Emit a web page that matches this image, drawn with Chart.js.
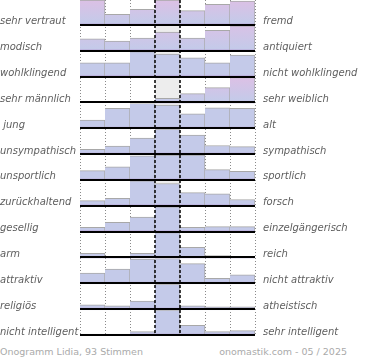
<!DOCTYPE html>
<html>
<head>
<meta charset="utf-8">
<script src="https://cdn.jsdelivr.net/npm/chart.js@4/dist/chart.umd.min.js"></script>
<style>
  body { margin: 0; background: #fff; }
  #wrap { position: relative; width: 370px; height: 340px; }
  .foot { position: absolute; top: 346px; font: 9.5px "DejaVu Sans", sans-serif; color: #aaa; white-space: nowrap; }
</style>
</head>
<body>
<div id="wrap"><canvas id="onogramm"></canvas></div>
<div class="foot" style="left:0">Onogramm Lidia, 93 Stimmen</div>
<div class="foot" style="right:23px">onomastik.com - 05 / 2025</div>
<script>
console.log("Onogramm loaded");
// SCALE STEPS (7 columns, left pole -> right pole)
const steps = ['1', '2', '3', '4', '5', '6', '7'];

const leftLabels = ['sehr vertraut', 'modisch', 'wohlklingend', 'sehr männlich', ' jung',
  'unsympathisch', 'unsportlich', 'zurückhaltend', 'gesellig', 'arm', 'attraktiv',
  'religiös', 'nicht intelligent'];
const rightLabels = ['fremd', 'antiquiert', 'nicht wohlklingend', 'sehr weiblich', 'alt',
  'sympathisch', 'sportlich', 'forsch', 'einzelgängerisch', 'reich', 'nicht attraktiv',
  'atheistisch', 'sehr intelligent'];

// relative bar heights per row (row max = 100)
const rowValues = [
  [100, 45, 64, 100, 59, 83, 96],
  [50, 41, 53, 76, 53, 83, 100],
  [57, 57, 100, 91, 76, 57, 87],
  [0, 0, 0, 20, 38, 61, 100],
  [35, 81, 100, 93, 60, 83, 81],
  [22, 35, 66, 100, 77, 37, 33],
  [40, 55, 97, 100, 100, 44, 37],
  [24, 33, 100, 90, 55, 50, 28],
  [20, 40, 60, 100, 20, 23, 23],
  [20, 4, 20, 100, 43, 11, 7],
  [43, 59, 98, 100, 80, 23, 37],
  [21, 17, 35, 100, 17, 13, 13],
  [7, 7, 17, 100, 41, 17, 21]
];

// how pink the top of a row gets
const rowTint = [1, 0.85, 0, 1, 0, 0, 0, 0, 0, 0, 0, 0, 0];

const blue = [196, 202, 233];
const pink = [220, 192, 229];
function mix(a, b, t) {
  return 'rgb(' + a.map((v, i) => Math.round(v + (b[i] - v) * t)).join(',') + ')';
}

function barFill(ctx) {
  const chart = ctx.chart;
  const ds = chart.data.datasets[ctx.datasetIndex];
  const ys = chart.scales[ds.yAxisID];
  if (!ys || !isFinite(ys.top) || ys.bottom <= ys.top) return mix(blue, blue, 0);
  const g = chart.ctx.createLinearGradient(0, ys.top, 0, ys.bottom);
  g.addColorStop(0, mix(blue, pink, rowTint[ctx.datasetIndex]));
  g.addColorStop(0.88, mix(blue, blue, 0));
  g.addColorStop(0.92, '#bcb3de');
  g.addColorStop(1, '#a293cb');
  return g;
}

const scales = {
  x: { display: false, offset: true }
};
rowValues.forEach((row, i) => {
  scales['y' + i] = {
    position: 'right', stack: 'rows', stackWeight: 1,
    min: 0, max: 100,
    ticks: { display: false },
    grid: { display: false, drawTicks: false },
    border: { display: false }
  };
});

const decor = {
  id: 'decor',
  beforeDatasetsDraw(chart) {
    const c = chart.ctx, x = chart.scales.x, a = chart.chartArea;
    const w = (x.right - x.left) / steps.length;
    c.save();
    c.fillStyle = '#ededed';
    c.fillRect(x.left + 3 * w, a.top, w, a.bottom - a.top);
    c.strokeStyle = '#8a8a8a';
    c.lineWidth = 1;
    c.setLineDash([1, 2]);
    for (let k = 0; k <= steps.length; k++) {
      if (k === 3 || k === 4) continue;
      const px = Math.round(x.left + k * w) + 0.5;
      c.beginPath(); c.moveTo(px, a.top); c.lineTo(px, a.bottom); c.stroke();
    }
    c.restore();
  },
  afterDatasetsDraw(chart) {
    const c = chart.ctx, x = chart.scales.x, a = chart.chartArea;
    const w = (x.right - x.left) / steps.length;
    c.save();
    c.strokeStyle = '#000';
    c.lineWidth = 2;
    rowValues.forEach((row, i) => {
      const ys = chart.scales['y' + i];
      const py = Math.round(ys.bottom) - 1;
      c.beginPath(); c.moveTo(x.left, py); c.lineTo(x.right, py); c.stroke();
    });
    c.lineWidth = 1.5;
    c.setLineDash([3, 2]);
    [3, 4].forEach(k => {
      const px = Math.round(x.left + k * w);
      c.beginPath(); c.moveTo(px, a.top); c.lineTo(px, a.bottom); c.stroke();
    });
    c.setLineDash([]);
    c.font = 'italic 10px "DejaVu Sans"';
    c.fillStyle = '#5e5e5e';
    c.textBaseline = 'alphabetic';
    rowValues.forEach((row, i) => {
      const ys = chart.scales['y' + i];
      const py = ys.bottom - 1.5;
      c.textAlign = 'left';
      c.fillText(leftLabels[i], 0, py);
      c.fillText(rightLabels[i], x.right + 8, py);
    });
    c.restore();
  }
};

new Chart(document.getElementById('onogramm'), {
  type: 'bar',
  data: {
    labels: steps,
    datasets: rowValues.map((row, i) => ({
      label: leftLabels[i] + ' / ' + rightLabels[i],
      data: row,
      yAxisID: 'y' + i,
      backgroundColor: barFill,
      borderColor: '#a8a8a8',
      borderWidth: { top: 1, right: 1, left: 0, bottom: 0 },
      borderSkipped: 'start',
      barPercentage: 1,
      categoryPercentage: 1,
      grouped: false
    }))
  },
  options: {
    responsive: true,
    maintainAspectRatio: false,
    animation: false,
    layout: { padding: { left: 80, right: 115, top: 0, bottom: 4 } },
    plugins: { legend: { display: false }, tooltip: { enabled: false } },
    scales: scales
  },
  plugins: [decor]
});
</script>
</body>
</html>
